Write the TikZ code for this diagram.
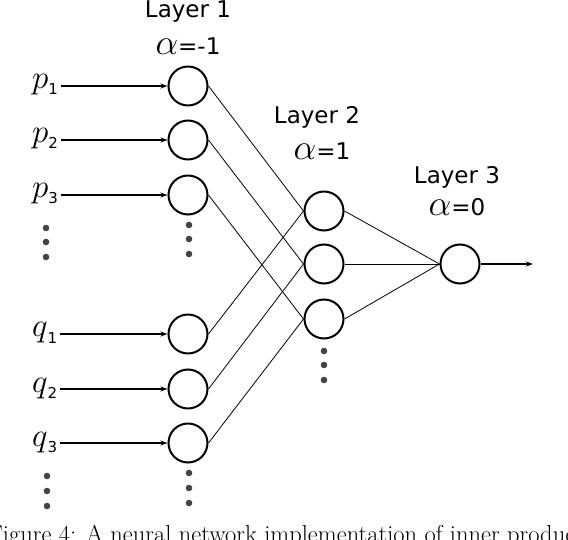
\RequirePackage{fix-cm}
\documentclass[tikz,border=0pt]{standalone}
\usepackage{amsmath}
\usepackage{fontspec}
\usetikzlibrary{arrows.meta}
\newfontfamily\labfont{DejaVu Sans}
\definecolor{dotgray}{HTML}{444444}
\newcommand{\layertext}[1]{{\labfont\fontsize{23}{23}\selectfont #1}}
\newcommand{\alphatext}[1]{{\fontsize{36}{36}\selectfont$\alpha$\labfont\fontsize{23}{23}\selectfont #1}}
\newcommand{\inlabel}[2]{{\fontsize{33}{33}\selectfont$#1$\labfont\fontsize{15}{15}\selectfont\raisebox{-6pt}{#2}}}

\begin{document}
\begin{tikzpicture}[x=1pt, y=-1pt, >={Stealth[length=7pt, width=5pt]},
    neuron/.style={circle, draw, line width=2pt, minimum size=39pt, inner sep=0pt},
    inlab/.style={anchor=base west, inner sep=0pt},
    edge/.style={line width=0.8pt}]
            \path[use as bounding box, clip] (0,0) rectangle (568,540);

            % Define vertices
            \node[neuron] (p1) at (188,86) {};
            \node[neuron] (p2) at (188,140) {};
            \node[neuron] (p3) at (188,195) {};
            \node[neuron] (q1) at (188,334) {};
            \node[neuron] (q2) at (188,389) {};
            \node[neuron] (q3) at (188,443) {};
            \node[neuron] (h1) at (324,211) {};
            \node[neuron] (h2) at (324,264) {};
            \node[neuron] (h3) at (324,319) {};
            \node[neuron] (o) at (460,264) {};
            \coordinate (out) at (533,264);

            % Input labels
            \node[inlab] (lp1) at (32,89) {\inlabel{p}{1}};
            \node[inlab] (lp2) at (32,143) {\inlabel{p}{2}};
            \node[inlab] (lp3) at (32,198) {\inlabel{p}{3}};
            \node[inlab] (lq1) at (32,337) {\inlabel{q}{1}};
            \node[inlab] (lq2) at (32,392) {\inlabel{q}{2}};
            \node[inlab] (lq3) at (32,446) {\inlabel{q}{3}};

            % Layer labels
            \node (t1) at (188,12) {\layertext{Layer 1}};
            \node (a1) at (188,46) {\alphatext{=-1}};
            \node (t2) at (317,117) {\layertext{Layer 2}};
            \node (a2) at (322,151) {\alphatext{=1}};
            \node (t3) at (457,177) {\layertext{Layer 3}};
            \node (a3) at (457,207) {\alphatext{=0}};

            % Draw edges with arrows
            \foreach \n in {p1,p2,p3,q1,q2,q3}
                \draw[line width=1.3pt, ->] ([xshift=3pt]l\n.east |- \n.west) -- (\n.west);
            \draw[edge] (p1.east) -- (h1.west);
            \draw[edge] (p2.east) -- (h2.west);
            \draw[edge] (p3.east) -- (h3.west);
            \draw[edge] (q1.east) -- (h1.west);
            \draw[edge] (q2.east) -- (h2.west);
            \draw[edge] (q3.east) -- (h3.west);
            \foreach \n in {h1,h2,h3}
                \draw[edge] (\n.east) -- (o.west);
            \draw[line width=1.3pt, ->] (o.east) -- (out);

            % Dots
            \foreach \x/\y in {46/228, 46/242, 46/257, 189/225, 189/239, 189/254,
                               324/351, 324/365, 324/380, 47/476, 47/491, 47/506,
                               189/473, 189/488, 189/503}
                \fill[dotgray] (\x,\y) circle (3.3pt);

            % Caption
            \node[anchor=base west, inner sep=0pt] (cap) at (-12,542)
                {\fontsize{24.5}{25}\selectfont Figure 4: A neural network implementation of inner product};
        \end{tikzpicture}
\end{document}
